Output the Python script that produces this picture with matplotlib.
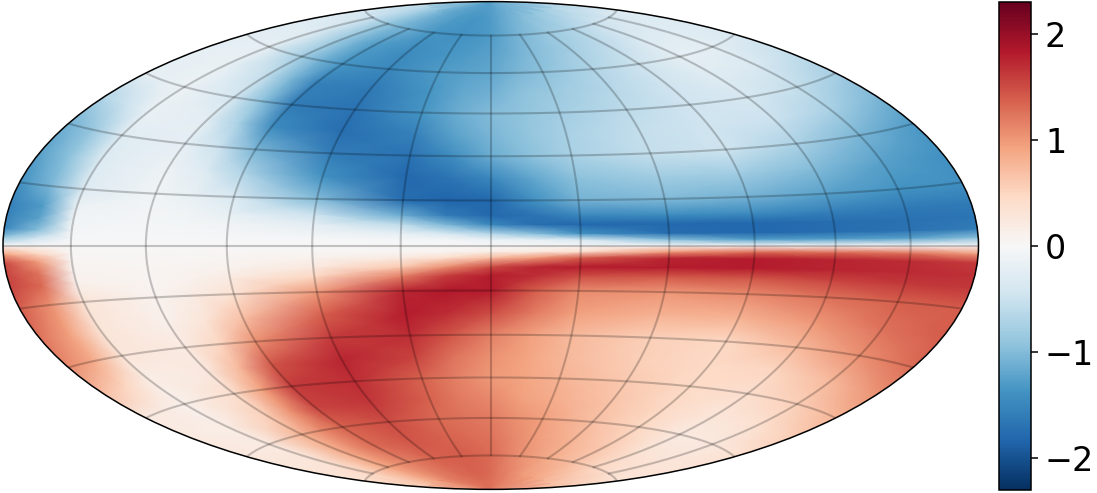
# Hammer map of a field that flips sign across the equator
import numpy as np
import matplotlib
matplotlib.use("Agg")
import matplotlib.pyplot as plt

lon_deg = [-180, -165, -150, -120, -105, -90, -60, -30, -15, 0, 15, 30, 60, 90, 120, 150, 180]
lat_deg = [0, 2, 4, 7, 10, 15, 22.5, 30, 37.5, 45, 52.5, 60, 67.5, 75, 82.5, 90]

# magnitude per latitude row, the south is the negative mirror of the north
rows = [
    [0.00, 0.00, 0.00, 0.00, 0.00, 0.00, 0.00, 0.00, 0.00, 0.00, 0.00, 0.00, 0.00, 0.00, 0.00, 0.00, 0.00],
    [0.90, 0.50, 0.03, 0.02, 0.02, 0.02, 0.03, 0.05, 0.07, 0.15, 0.22, 0.40, 1.00, 1.30, 1.30, 1.25, 1.00],
    [1.50, 1.00, 0.05, 0.03, 0.04, 0.05, 0.10, 0.20, 0.40, 0.70, 1.00, 1.40, 1.75, 1.80, 1.75, 1.70, 1.60],
    [1.55, 1.25, 0.08, 0.04, 0.06, 0.10, 0.25, 0.60, 1.05, 1.50, 1.75, 1.80, 1.80, 1.80, 1.75, 1.72, 1.68],
    [1.55, 1.30, 0.12, 0.05, 0.10, 0.20, 0.50, 1.15, 1.60, 1.80, 1.70, 1.50, 1.42, 1.45, 1.55, 1.62, 1.62],
    [1.40, 1.05, 0.30, 0.08, 0.18, 0.35, 1.00, 1.75, 1.85, 1.80, 1.40, 1.08, 1.02, 1.08, 1.25, 1.38, 1.40],
    [1.25, 0.95, 0.30, 0.12, 0.30, 0.70, 1.40, 1.80, 1.70, 1.50, 1.20, 0.95, 0.80, 0.80, 1.00, 1.25, 1.40],
    [1.10, 0.85, 0.28, 0.20, 0.50, 1.05, 1.60, 1.70, 1.45, 1.15, 0.95, 0.75, 0.55, 0.48, 0.72, 1.05, 1.30],
    [0.70, 0.50, 0.15, 0.25, 0.75, 1.45, 1.75, 1.55, 1.25, 1.05, 0.90, 0.75, 0.55, 0.45, 0.50, 0.75, 1.05],
    [0.20, 0.18, 0.12, 0.40, 0.95, 1.60, 1.70, 1.35, 1.15, 1.00, 0.90, 0.80, 0.60, 0.45, 0.38, 0.55, 0.78],
    [0.20, 0.17, 0.15, 0.55, 1.05, 1.55, 1.65, 1.35, 1.20, 1.10, 0.95, 0.85, 0.65, 0.45, 0.28, 0.35, 0.55],
    [0.25, 0.22, 0.20, 0.80, 1.10, 1.35, 1.50, 1.30, 1.25, 1.20, 1.05, 0.95, 0.70, 0.47, 0.20, 0.22, 0.35],
    [0.28, 0.28, 0.30, 0.85, 1.10, 1.30, 1.45, 1.35, 1.30, 1.25, 1.12, 1.00, 0.78, 0.58, 0.33, 0.28, 0.30],
    [0.35, 0.40, 0.50, 0.90, 1.05, 1.15, 1.35, 1.40, 1.35, 1.30, 1.18, 1.05, 0.85, 0.70, 0.50, 0.38, 0.30],
    [0.60, 0.65, 0.75, 1.00, 1.10, 1.20, 1.30, 1.35, 1.33, 1.30, 1.22, 1.15, 1.00, 0.90, 0.80, 0.70, 0.65],
    [1.25, 1.25, 1.25, 1.25, 1.25, 1.25, 1.25, 1.25, 1.25, 1.25, 1.25, 1.25, 1.25, 1.25, 1.25, 1.25, 1.25],
]
cbar_ticks = [-2, -1, 0, 1, 2]

north = np.array(rows)
field = np.vstack([north[:0:-1], -north])
lat_all = np.radians(np.concatenate([-np.array(lat_deg[:0:-1]), lat_deg]))
lon_all = np.radians(lon_deg)

W, H = 1097, 493
fig = plt.figure(figsize=(W / 100, H / 100), dpi=100)
ax = fig.add_axes([3 / W, (H - 489.5) / H, 975.5 / W, 488 / H], projection="hammer")

lon_grid, lat_grid = np.meshgrid(lon_all, lat_all)
mesh = ax.pcolormesh(lon_grid, lat_grid, field, cmap="RdBu_r", vmin=-2.3, vmax=2.3,
                     shading="gouraud", rasterized=True)

ax.set_xticklabels([])
ax.set_yticklabels([])
ax.grid(True, color="k", alpha=0.22, linewidth=1.5)
for spine in ax.spines.values():
    spine.set_linewidth(1.1)

cax = fig.add_axes([999 / W, (H - 489.5) / H, 32 / W, 487.5 / H])
cbar = fig.colorbar(mesh, cax=cax, ticks=cbar_ticks)
cbar.ax.tick_params(labelsize=24, length=5, width=1.1, pad=5)
cbar.outline.set_linewidth(1.1)

fig.savefig("out.png", dpi=100)
